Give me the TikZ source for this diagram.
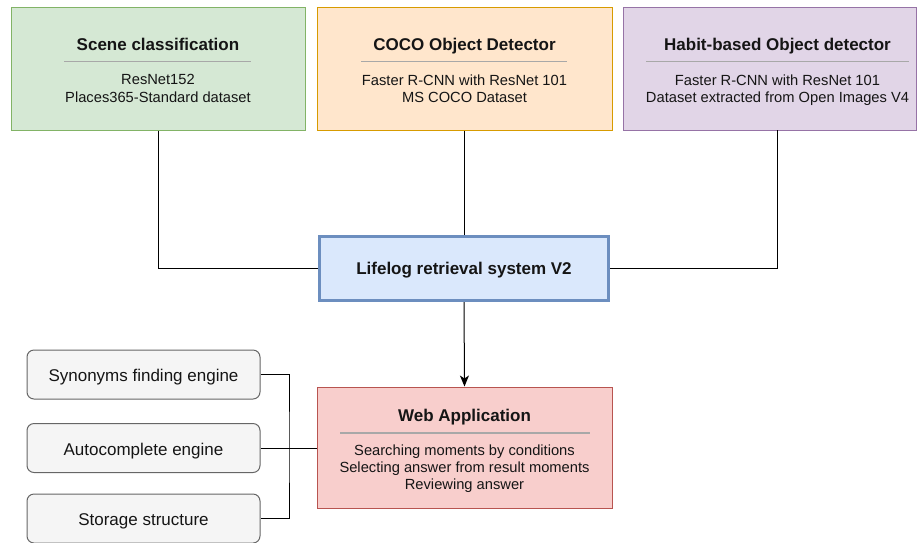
\documentclass[tikz,border=0pt]{standalone}
\usepackage{fontspec}
\setmainfont{Liberation Sans}
\usetikzlibrary{arrows.meta,calc}

\definecolor{sceneFill}{HTML}{D5E8D4}\definecolor{sceneLine}{HTML}{82B366}
\definecolor{cocoFill}{HTML}{FFE6CC}\definecolor{cocoLine}{HTML}{D79B00}
\definecolor{habitFill}{HTML}{E1D5E7}\definecolor{habitLine}{HTML}{9673A6}
\definecolor{lifeFill}{HTML}{DAE8FC}\definecolor{lifeLine}{HTML}{6C8EBF}
\definecolor{webFill}{HTML}{F8CECC}\definecolor{webLine}{HTML}{B85450}
\definecolor{toolFill}{HTML}{F5F5F5}\definecolor{toolLine}{HTML}{666666}
\definecolor{ruleGray}{HTML}{A8A8A8}
\definecolor{inkText}{HTML}{151515}

\newcommand\titlefont{\fontsize{17}{20}\selectfont\bfseries}
\newcommand\bodyfont{\fontsize{14.7}{17.4}\selectfont}
\newcommand\toolfont{\fontsize{17}{20}\selectfont}

\begin{document}
\begin{tikzpicture}[x=1pt,y=-1pt,
  panel/.style={draw, line width=1pt, inner sep=0pt},
  titletext/.style={text=inkText, font=\titlefont, inner sep=0pt, anchor=base},
  bodytext/.style={text=inkText, font=\bodyfont, align=center, inner sep=0pt},
  sepline/.style={draw=ruleGray, line width=1.2pt},
  toolbox/.style={draw=toolLine, fill=toolFill, line width=1pt, rounded corners=7pt,
    minimum width=233pt, minimum height=49pt, text=inkText, font=\toolfont, inner sep=0pt,
    text height=15pt, text depth=0.6pt},
  wire/.style={draw=black, line width=1pt},
]
\useasboundingbox (0,0) rectangle (917,542);

% model boxes along the top
\node[panel, fill=sceneFill, draw=sceneLine, minimum width=294pt, minimum height=123pt] (scene) at (158,68.5) {};
\node[titletext] (sceneT) at (158,50.5) {Scene classification};
\draw[sepline] (64,61.5) -- (251,61.5);
\node[bodytext] (sceneB) at (158,88.5) {ResNet152\\Places365-Standard dataset};

\node[panel, fill=cocoFill, draw=cocoLine, minimum width=295pt, minimum height=123pt] (coco) at (464.5,68.5) {};
\node[titletext] (cocoT) at (464.5,50) {COCO Object Detector};
\draw[sepline] (361,61.5) -- (567,61.5);
\node[bodytext] (cocoB) at (464.5,88.5) {Faster R-CNN with ResNet 101\\MS COCO Dataset};

\node[panel, fill=habitFill, draw=habitLine, minimum width=293pt, minimum height=123pt] (habit) at (769.5,68.5) {};
\node[titletext] (habitT) at (777.5,50) {Habit-based Object detector};
\draw[sepline] (646,61.5) -- (909,61.5);
\node[bodytext] (habitB) at (777.5,90) {Faster R-CNN with ResNet 101\\Dataset extracted from Open Images V4};
\coordinate (habitOut) at (777,130);

% central system
\node[draw=lifeLine, fill=lifeFill, line width=3pt, minimum width=289pt, minimum height=64pt,
  inner sep=0pt, text=inkText, font=\titlefont, text height=12pt, text depth=0pt] (life) at (464,268.5) {Lifelog retrieval system V2};

% web application
\node[panel, fill=webFill, draw=webLine, minimum width=295pt, minimum height=121pt] (web) at (464.5,447.5) {};
\node[titletext] (webT) at (464.5,421.5) {Web Application};
\draw[sepline] (340,433) -- (590,433);
\node[bodytext] (webB) at (464.5,468.7) {Searching moments by conditions\\Selecting answer from result moments\\Reviewing answer};

% supporting engines
\node[toolbox] (syn) at (143.5,374.5) {Synonyms finding engine};
\node[toolbox] (auto) at (143.5,448) {Autocomplete engine};
\node[toolbox] (store) at (143.5,518.5) {Storage structure};
\coordinate (bus) at (289,448);

% connectors
\draw[wire] (scene.south) |- (life.west);
\draw[wire] (coco.south) -- (coco.south |- life.north);
\draw[wire] (habitOut) |- (life.east);
\draw[wire, -{Stealth[length=11pt,width=9pt,inset=3pt]}] (life.south) -- (web.north);
\draw[wire] (syn.east) -| (bus) |- (store.east);
\draw[wire] (auto.east) -- (web.west |- auto.east);
\end{tikzpicture}
\end{document}
